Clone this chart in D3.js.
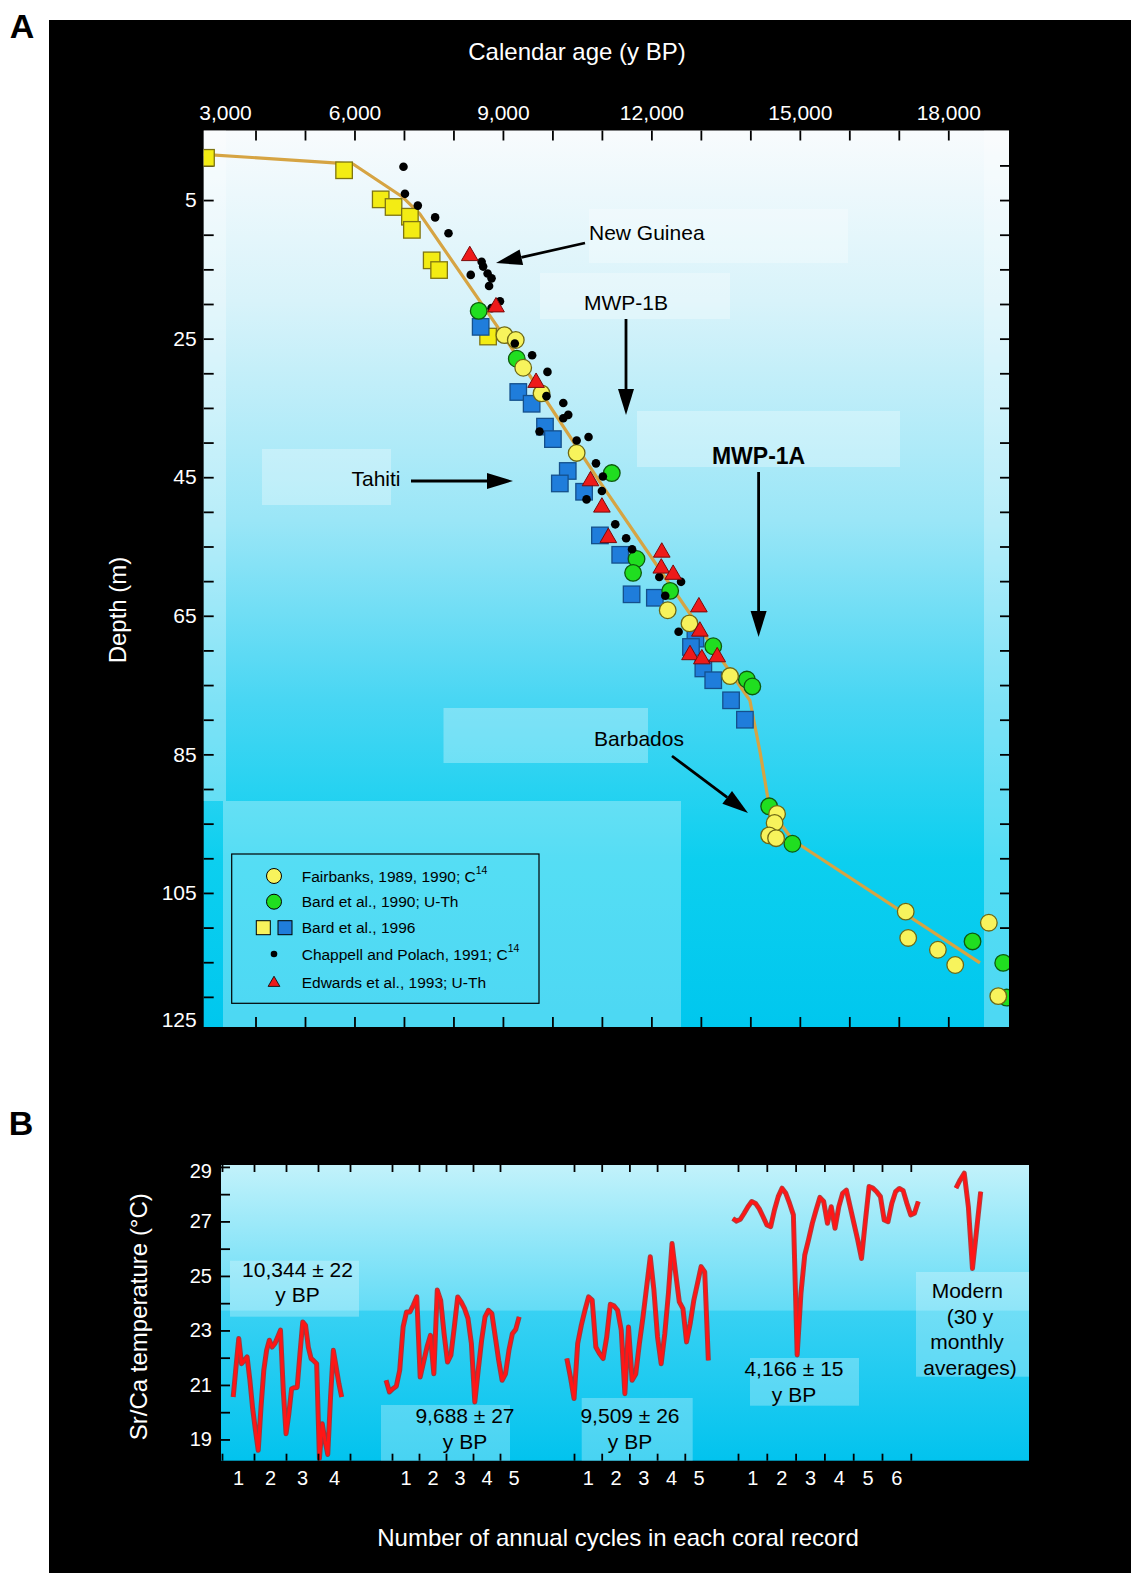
<!DOCTYPE html>
<html><head><meta charset="utf-8">
<script src="https://cdn.jsdelivr.net/npm/d3@7"></script>
<style>
body{margin:0;background:#fff}
svg{display:block}
text{font-family:"Liberation Sans",Arial,Helvetica,sans-serif}
</style>
</head><body>
<svg id="chart" width="1131" height="1573"></svg>
<script>
// ---------------- DATA : panel A (calendar age in y BP, depth in m) ----------------
const fitLine = [[2950,-1.6],[5970,-0.2],[6980,4.6],[7320,7.0],[8940,23.8],[10960,45.7],[12980,66.8],
  [13990,77.2],[14200,84.8],[14360,91.6],[14560,94.5],[14860,97.4],[18640,115.1]];
const fairbanks = [[9030,24.5],[9260,25.2],[9410,29.2],[9780,32.9],[10490,41.5],[12330,64.2],[12770,66.1],
  [13590,73.7],[14540,93.6],[14490,94.9],[14380,96.7],[14520,97.1],[17140,107.7],[17190,111.5],
  [17790,113.2],[18140,115.4],[18820,109.3],[19010,119.9]];
const bard1990 = [[8510,21.0],[9280,27.9],[11200,44.4],[11700,56.8],[11630,58.8],[12380,61.4],[13250,69.4],
  [13930,74.2],[14040,75.2],[14380,92.5],[14850,97.9],[18490,112.0],[19110,115.1],[19180,120.1]];
const bard1996Yellow = [[3000,-1.1],[5790,0.7],[6530,4.9],[6790,6.0],[7120,7.4],[7160,9.3],[7560,13.7],
  [7710,15.1],[8700,24.7]];
const bard1996Blue = [[8550,23.3],[9310,32.7],[9580,34.4],[9850,37.7],[10010,39.5],[10310,44.1],[10150,45.9],
  [10640,47.1],[10960,53.4],[11370,56.2],[11600,61.9],[12070,62.4],[12890,68.3],[12800,69.5],[13050,72.6],
  [13250,74.3],[13610,77.2],[13890,80.0]];
const chappell = [[6990,0.2],[7020,4.1],[7280,5.8],[7630,7.5],[7900,9.8],[8350,15.8],[8570,13.9],[8600,14.6],
  [8690,15.6],[8770,16.3],[8720,17.4],[8940,19.6],[8770,20.6],[9240,25.7],[9590,27.4],[9900,29.8],[9880,33.3],
  [10220,34.3],[10320,36.0],[10220,36.5],[9740,38.4],[10490,39.7],[10730,39.2],[10880,43.0],[11020,44.9],
  [11000,47.0],[10690,48.2],[11270,51.8],[11490,53.8],[11610,55.4],[12160,59.4],[12600,60.1],[12280,62.1],
  [12550,67.3]];
const edwards = [[8330,12.9],[8860,20.3],[9670,31.2],[10770,45.4],[11000,49.2],[11130,53.6],[12210,55.7],
  [12200,58.0],[12440,58.9],[12960,63.6],[12980,67.1],[12780,70.5],[13020,71.1],[13330,70.8]];
const ageTickLabels = [3000,6000,9000,12000,15000,18000];
const depthTickLabels = [5,25,45,65,85,105,125];

// ---------------- DATA : panel B (Sr/Ca temperature, deg C) ----------------
const record10344 = [20.56,21.66,22.70,21.78,21.90,22.03,21.17,20.13,19.33,18.60,20.19,21.54,22.27,22.64,22.39,
  22.52,22.76,23.01,20.80,19.21,19.94,20.86,20.90,20.91,22.15,23.31,23.19,22.39,21.97,21.88,21.78,18.30,19.58,
  18.96,18.45,20.56,22.27,21.66,21.05,20.56];
const record9688 = [21.17,20.74,20.86,20.95,21.54,23.13,23.68,23.68,23.93,24.23,21.29,21.84,22.39,22.82,21.41,
  24.48,24.11,22.88,21.84,22.09,23.13,24.23,24.05,23.80,23.44,22.52,20.37,21.54,22.64,23.50,23.74,23.62,22.76,
  21.90,21.17,21.41,22.27,22.88,23.04,23.50];
const record9509 = [21.97,21.29,20.50,22.52,23.19,23.74,24.23,24.11,22.39,22.15,21.97,22.76,23.96,23.90,23.74,
  23.01,20.68,23.13,21.17,21.40,22.52,23.50,24.60,25.70,24.48,22.76,21.78,22.88,24.36,26.19,25.09,24.05,23.80,
  22.58,23.25,24.11,24.72,25.34,25.15,21.90];
const record4166 = [27.11,27.01,27.08,27.30,27.54,27.73,27.66,27.46,27.17,26.87,26.81,27.42,27.91,28.22,28.03,
  27.66,27.24,22.10,24.36,25.76,26.32,26.93,27.42,27.88,27.73,26.93,27.54,26.75,27.54,28.03,28.15,27.54,26.93,
  26.32,25.64,26.99,28.28,28.22,28.09,27.91,27.05,26.99,27.66,28.09,28.21,28.13,27.66,27.24,27.30,27.73];
const modernMonthly = [28.22,28.52,28.77,27.54,25.27,26.68,28.09];
const recordCycles = [4,5,5,6];
const recordSpans = [[0.35,3.74],[-0.22,4.71],[-0.26,4.85],[-0.18,6.26]]; // first/last sample, in cycles
const recordTickCycles = [[0,1,2,3,4],[0,1,2,3,4],[0,1,2,3,4],[0,1,2,3,4,5,6]];
const recordAges = [["10,344 ± 22","y BP"],["9,688 ± 27","y BP"],["9,509 ± 26","y BP"],["4,166 ± 15","y BP"]];
const tempTicks = [19,20,21,22,23,24,25,26,27,28,29];
const tempTickLabels = [19,21,23,25,27,29];

// ---------------- LAYOUT ----------------
const W = 1131, H = 1573;
const A = {l:203.7, r:1009, t:130.5, b:1027};
const B = {l:221, r:1029, t:1165, b:1460.7};
const FONT = '"Liberation Sans",Arial,Helvetica,sans-serif';

const svg = d3.select('#chart');
svg.append('rect').attr('width',W).attr('height',H).attr('fill','#fff');
svg.append('rect').attr('x',49).attr('y',20).attr('width',W-49).attr('height',H-20).attr('fill','#000');
const defs = svg.append('defs');
function grad(id, stops){
  const g = defs.append('linearGradient').attr('id',id).attr('x1',0).attr('y1',0).attr('x2',0).attr('y2',1);
  stops.forEach(([o,c])=>g.append('stop').attr('offset',o).attr('stop-color',c));
}
grad('gA',[[0,'#f8fbfd'],[0.19,'#d8f3fa'],[0.435,'#9ae6f7'],[0.636,'#48d6f3'],[0.815,'#0ccfef'],[1,'#00c7ee']]);
grad('gB',[[0,'#c2f2fb'],[0.49,'#64dcf6'],[0.495,'#38d1f3'],[1,'#02c3ee']]);
defs.append('clipPath').attr('id','clipA').append('rect')
  .attr('x',A.l).attr('y',A.t).attr('width',A.r-A.l).attr('height',A.b-A.t);
defs.append('clipPath').attr('id','clipB').append('rect')
  .attr('x',B.l).attr('y',B.t).attr('width',B.r-B.l).attr('height',B.b-B.t);

// panel letters
svg.append('text').attr('x',22).attr('y',38).attr('text-anchor','middle')
  .attr('font-size',34).attr('font-weight','bold').text('A');
svg.append('text').attr('x',21).attr('y',1135).attr('text-anchor','middle')
  .attr('font-size',34).attr('font-weight','bold').text('B');

// ================= PANEL A =================
const xA = d3.scaleLinear().domain([2953,19227]).range([A.l,A.r]);
const yA = d3.scaleLinear().domain([-5.04,124.35]).range([A.t,A.b]);

svg.append('rect').attr('x',A.l).attr('y',A.t).attr('width',A.r-A.l).attr('height',A.b-A.t).attr('fill','url(#gA)');
// pale overlay patches
const patchesA = [[203.7,130.5,226,801],[984,130.5,1009,1027],[223,801,681,1027],[589,209,848,263],
  [540,273,730,319],[637,411,900,467],[262,449,391,505],[443.5,708,648,763]];
svg.append('g').selectAll('rect').data(patchesA).join('rect')
  .attr('x',d=>d[0]).attr('y',d=>d[1]).attr('width',d=>d[2]-d[0]).attr('height',d=>d[3]-d[1])
  .attr('fill','#fff').attr('opacity',0.3);

function styleTicks(g, col){
  g.select('.domain').remove();
  g.selectAll('.tick line').attr('stroke',col||'#000').attr('stroke-width',1.8);
  g.selectAll('text').remove();
}
const minorAges = d3.range(4000,18001,1000);
const depthTicks = d3.range(0,121,5);
svg.append('g').attr('transform',`translate(0,${A.t})`).call(d3.axisTop(xA).tickValues(minorAges).tickSizeInner(-10).tickSizeOuter(0)).call(styleTicks);
svg.append('g').attr('transform',`translate(0,${A.b})`).call(d3.axisBottom(xA).tickValues(minorAges).tickSizeInner(-10).tickSizeOuter(0)).call(styleTicks);
svg.append('g').attr('transform',`translate(${A.l},0)`).call(d3.axisLeft(yA).tickValues(depthTicks).tickSizeInner(-10).tickSizeOuter(0)).call(styleTicks);
svg.append('g').attr('transform',`translate(${A.r},0)`).call(d3.axisRight(yA).tickValues(depthTicks).tickSizeInner(-9).tickSizeOuter(0)).call(styleTicks);

// tick labels
const ageLab = svg.append('g').attr('transform',`translate(0,${A.t})`)
  .call(d3.axisTop(xA).tickValues(ageTickLabels).tickSize(0).tickPadding(10.5).tickFormat(d3.format(',')));
ageLab.select('.domain').remove();
ageLab.selectAll('text').attr('fill','#fff').attr('font-size',21).attr('font-family',FONT)
  .attr('dx',d=>d===3000?19:0);
const yClamp = yA.copy().clamp(true);
const depLab = svg.append('g').attr('transform',`translate(${A.l},0)`)
  .call(d3.axisLeft(yClamp).tickValues(depthTickLabels).tickSize(0).tickPadding(7));
depLab.select('.domain').remove();
depLab.selectAll('text').attr('fill','#fff').attr('font-size',21).attr('font-family',FONT)
  .attr('transform',d=>d===125?'translate(0,-7.5)':null);

svg.append('text').attr('x',577).attr('y',60).attr('text-anchor','middle').attr('fill','#fff')
  .attr('font-size',24).text('Calendar age (y BP)');
svg.append('text').attr('transform','translate(126,610) rotate(-90)').attr('text-anchor','middle')
  .attr('fill','#fff').attr('font-size',24).text('Depth (m)');

// marks
const plotA = svg.append('g').attr('clip-path','url(#clipA)');
plotA.append('path').datum(fitLine)
  .attr('d',d3.line().x(d=>xA(d[0])).y(d=>yA(d[1])))
  .attr('fill','none').attr('stroke','#d6a443').attr('stroke-width',3.2).attr('stroke-linejoin','round');
const SQ = 16.5;
plotA.append('g').selectAll('rect').data(bard1996Yellow).join('rect')
  .attr('x',d=>xA(d[0])-SQ/2).attr('y',d=>yA(d[1])-SQ/2).attr('width',SQ).attr('height',SQ)
  .attr('fill','#f3ec14').attr('stroke','#7f7512').attr('stroke-width',1.3);
plotA.append('g').selectAll('rect').data(bard1996Blue).join('rect')
  .attr('x',d=>xA(d[0])-SQ/2).attr('y',d=>yA(d[1])-SQ/2).attr('width',SQ).attr('height',SQ)
  .attr('fill','#1f7ddb').attr('stroke','#14508c').attr('stroke-width',1.3);
plotA.append('g').selectAll('circle').data(bard1990).join('circle')
  .attr('cx',d=>xA(d[0])).attr('cy',d=>yA(d[1])).attr('r',8.3)
  .attr('fill','#20de20').attr('stroke','#0d5a0d').attr('stroke-width',1.3);
plotA.append('g').selectAll('circle').data(fairbanks).join('circle')
  .attr('cx',d=>xA(d[0])).attr('cy',d=>yA(d[1])).attr('r',8.3)
  .attr('fill','#f7f35c').attr('stroke','#6e6814').attr('stroke-width',1.3);
plotA.append('g').selectAll('circle').data(chappell).join('circle')
  .attr('cx',d=>xA(d[0])).attr('cy',d=>yA(d[1])).attr('r',4.3).attr('fill','#000');
const tri = d3.symbol().type(d3.symbolTriangle).size(120);
plotA.append('g').selectAll('path').data(edwards).join('path')
  .attr('d',tri).attr('transform',d=>`translate(${xA(d[0])},${yA(d[1])+1})`)
  .attr('fill','#ee1a1a').attr('stroke','#7a0a0a').attr('stroke-width',1);

// annotations
function arrow(x1,y1,x2,y2){
  const ang = Math.atan2(y2-y1,x2-x1), L = 26, hw = 8;
  const bx = x2 - L*Math.cos(ang), by = y2 - L*Math.sin(ang);
  const g = svg.append('g');
  g.append('line').attr('x1',x1).attr('y1',y1).attr('x2',bx).attr('y2',by).attr('stroke','#000').attr('stroke-width',2.8);
  const px = -Math.sin(ang)*hw, py = Math.cos(ang)*hw;
  g.append('path').attr('d',`M${x2},${y2}L${bx+px},${by+py}L${bx-px},${by-py}Z`).attr('fill','#000');
}
function label(x,y,t,opt){
  const s = svg.append('text').attr('x',x).attr('y',y).attr('dy','0.35em').attr('font-size',(opt&&opt.size)||21)
    .attr('text-anchor',(opt&&opt.anchor)||'middle').attr('fill','#000').text(t);
  if(opt&&opt.bold) s.attr('font-weight','bold');
  return s;
}
label(589,233,'New Guinea',{anchor:'start'});
arrow(585,243,496,263);
label(626,303,'MWP-1B');
arrow(626,319,626,415);
label(758.6,456,'MWP-1A',{bold:true,size:23});
arrow(758.6,472,758.6,637);
label(376,479,'Tahiti');
arrow(411,481,513,481);
label(639,738.6,'Barbados');
arrow(672,756,748,813);

// legend
const lg = svg.append('g');
lg.append('rect').attr('x',231.7).attr('y',854).attr('width',307.3).attr('height',149.3)
  .attr('fill','none').attr('stroke','#000').attr('stroke-width',1.2);
const rows = [876,901.7,927.7,954,982];
lg.append('circle').attr('cx',274).attr('cy',rows[0]).attr('r',7.5).attr('fill','#f7f35c').attr('stroke','#000').attr('stroke-width',1);
lg.append('circle').attr('cx',274).attr('cy',rows[1]).attr('r',7.5).attr('fill','#20de20').attr('stroke','#000').attr('stroke-width',1);
lg.append('rect').attr('x',256.3).attr('y',rows[2]-7).attr('width',14).attr('height',14).attr('fill','#f7f35c').attr('stroke','#000').attr('stroke-width',1);
lg.append('rect').attr('x',278).attr('y',rows[2]-7).attr('width',14).attr('height',14).attr('fill','#1f7ddb').attr('stroke','#000').attr('stroke-width',1);
lg.append('circle').attr('cx',274).attr('cy',rows[3]).attr('r',3.3).attr('fill','#000');
lg.append('path').attr('d',d3.symbol().type(d3.symbolTriangle).size(60)).attr('transform',`translate(274,${rows[4]+1})`)
  .attr('fill','#ee1a1a').attr('stroke','#000').attr('stroke-width',0.8);
const legTexts = [['Fairbanks, 1989, 1990; C','14'],['Bard et al., 1990; U-Th',''],['Bard et al., 1996',''],
  ['Chappell and Polach, 1991; C','14'],['Edwards et al., 1993; U-Th','']];
legTexts.forEach((t,i)=>{
  const tx = lg.append('text').attr('x',301.7).attr('y',rows[i]).attr('dy','0.36em').attr('font-size',15.5).attr('fill','#000');
  tx.append('tspan').text(t[0]);
  if(t[1]) tx.append('tspan').attr('font-size',10.5).attr('dy','-0.75em').text(t[1]);
});

// ================= PANEL B =================
const yB = d3.scaleLinear().domain([18.22,29.07]).range([B.b,B.t]);
svg.append('rect').attr('x',B.l).attr('y',B.t).attr('width',B.r-B.l).attr('height',B.b-B.t).attr('fill','url(#gB)');
const patchesB = [[230,1260.7,359,1316.7],[381,1405,510,1460.7],[581.7,1398,692.7,1460.7],[750,1358,859,1405.7],[916,1272,1029,1376.7]];
svg.append('g').selectAll('rect').data(patchesB).join('rect')
  .attr('x',d=>d[0]).attr('y',d=>d[1]).attr('width',d=>d[2]-d[0]).attr('height',d=>d[3]-d[1])
  .attr('fill','#fff').attr('opacity',0.28);

svg.append('g').attr('transform',`translate(${B.l},0)`)
  .call(d3.axisLeft(yB).tickValues(tempTicks).tickSizeInner(-9).tickSizeOuter(0)).call(styleTicks);
const tLab = svg.append('g').attr('transform',`translate(${B.l},0)`)
  .call(d3.axisLeft(yB).tickValues(tempTickLabels).tickSize(0).tickPadding(9));
tLab.select('.domain').remove();
tLab.selectAll('text').attr('fill','#fff').attr('font-size',20).attr('font-family',FONT)
  .attr('transform',d=>d===29?'translate(0,4)':null);

const groupX0 = [222,392,574,738], groupW = [32,27,27.7,28.8];
const records = [record10344, record9688, record9509, record4166];
const plotB = svg.append('g').attr('clip-path','url(#clipB)');
function drawRed(pts){
  const ln = d3.line().x(d=>d[0]).y(d=>d[1]);
  plotB.append('path').datum(pts).attr('d',ln).attr('fill','none').attr('stroke','#b3201f')
    .attr('stroke-width',5).attr('stroke-linejoin','round').attr('opacity',0.85);
  plotB.append('path').datum(pts).attr('d',ln).attr('fill','none').attr('stroke','#ff1616')
    .attr('stroke-width',3).attr('stroke-linejoin','round');
}
records.forEach((vals,gi)=>{
  const n = recordCycles[gi];
  const xs = d3.scaleLinear().domain([0,n]).range([groupX0[gi],groupX0[gi]+groupW[gi]*n]);
  svg.append('g').attr('transform',`translate(0,${B.t})`)
    .call(d3.axisTop(xs).tickValues(recordTickCycles[gi]).tickSizeInner(-7).tickSizeOuter(0)).call(styleTicks);
  svg.append('g').attr('transform',`translate(0,${B.b})`)
    .call(d3.axisBottom(xs).tickValues(recordTickCycles[gi]).tickSizeInner(-7).tickSizeOuter(0)).call(styleTicks);
  const lab = svg.append('g').attr('transform',`translate(0,${B.b})`)
    .call(d3.axisBottom(xs).tickValues(d3.range(n).map(i=>i+0.5)).tickSize(0).tickPadding(10).tickFormat(d=>d+0.5));
  lab.select('.domain').remove();
  lab.selectAll('text').attr('fill','#fff').attr('font-size',20).attr('font-family',FONT);
  const [s,e] = recordSpans[gi];
  const pts = vals.map((v,i)=>[xs(s+i*(e-s)/(vals.length-1)), yB(v)]);
  drawRed(pts);
});
const xModern = d3.scaleLinear().domain([0,modernMonthly.length-1]).range([956,980.7]);
drawRed(modernMonthly.map((v,i)=>[xModern(i),yB(v)]));

// panel B labels
const ageLabelPos = [[297.5,1270,1295],[465,1416,1441.7],[630,1416,1441.7],[794,1369,1395]];
recordAges.forEach((t,i)=>{
  label(ageLabelPos[i][0],ageLabelPos[i][1],t[0]);
  label(ageLabelPos[i][0],ageLabelPos[i][2],t[1]);
});
label(967.3,1291,'Modern');
label(970,1316.7,'(30 y');
label(967,1342,'monthly');
label(970,1368,'averages)');

svg.append('text').attr('transform','translate(147,1316.7) rotate(-90)').attr('text-anchor','middle')
  .attr('fill','#fff').attr('font-size',24).text('Sr/Ca temperature (°C)');
svg.append('text').attr('x',618).attr('y',1546).attr('text-anchor','middle')
  .attr('fill','#fff').attr('font-size',24).text('Number of annual cycles in each coral record');
</script>
</body></html>
